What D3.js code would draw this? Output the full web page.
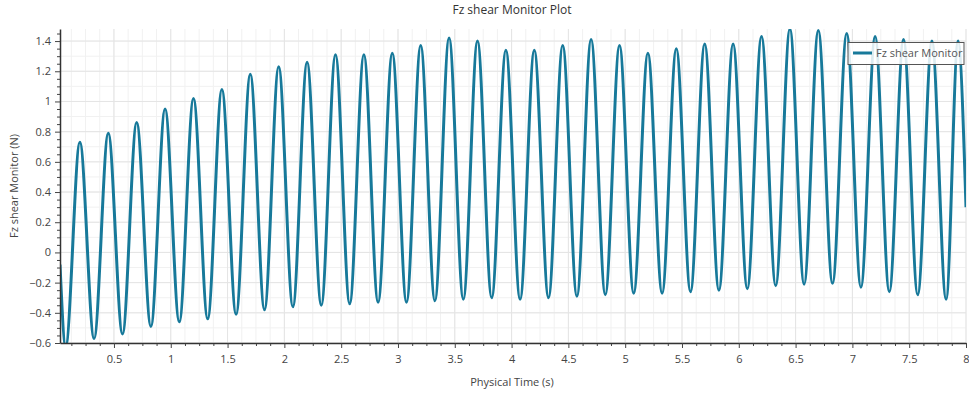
<!DOCTYPE html>
<html>
<head>
<meta charset="utf-8">
<script src="https://cdn.jsdelivr.net/npm/d3@7"></script>
<style>
  body { margin: 0; background: #fff; }
  text { font-family: "Open Sans", "Noto Sans", sans-serif; }
</style>
</head>
<body>
<div id="chart"></div>
<script>
  // values: peaks and troughs of the oscillation
  var peakTime = [0.2, 0.45, 0.7, 0.95, 1.2, 1.45, 1.7, 1.95, 2.2, 2.45, 2.7, 2.95, 3.2, 3.45, 3.7, 3.95,
                  4.2, 4.45, 4.7, 4.95, 5.2, 5.45, 5.7, 5.95, 6.2, 6.45, 6.7, 6.95, 7.2, 7.45, 7.7, 7.93];
  var peakFz = [0.73, 0.79, 0.86, 0.95, 1.02, 1.08, 1.18, 1.23, 1.26, 1.31, 1.31, 1.32, 1.37, 1.42, 1.40, 1.34,
                1.34, 1.37, 1.41, 1.37, 1.32, 1.35, 1.38, 1.38, 1.43, 1.48, 1.47, 1.45, 1.43, 1.41, 1.40, 1.40];
  var troughTime = [0.075, 0.325, 0.575, 0.825, 1.075, 1.325, 1.575, 1.825, 2.075, 2.325, 2.575, 2.825, 3.075, 3.325, 3.575, 3.825,
                    4.075, 4.325, 4.575, 4.825, 5.075, 5.325, 5.575, 5.825, 6.075, 6.325, 6.575, 6.825, 7.075, 7.325, 7.575, 7.825];
  var troughFz = [-0.62, -0.57, -0.54, -0.49, -0.46, -0.44, -0.41, -0.38, -0.36, -0.35, -0.34, -0.33, -0.33, -0.32, -0.31, -0.30,
                  -0.31, -0.30, -0.29, -0.28, -0.27, -0.27, -0.26, -0.25, -0.24, -0.22, -0.21, -0.205, -0.23, -0.26, -0.28, -0.31];
  var startPoint = [0.025, -0.08];
  var endPoint = [8.0, 0.30];

  var xTicks = [0.5, 1, 1.5, 2, 2.5, 3, 3.5, 4, 4.5, 5, 5.5, 6, 6.5, 7, 7.5, 8];
  var yTicks = [-0.6, -0.4, -0.2, 0, 0.2, 0.4, 0.6, 0.8, 1, 1.2, 1.4];

  var width = 969, height = 394;
  var plotLeft = 60, plotRight = 966, plotTop = 29, plotBottom = 343;
  var lineColor = "#17799a";

  var data = [{t: startPoint[0], v: startPoint[1]}];
  for (let i = 0; i < peakTime.length; i++) {
    data.push({t: troughTime[i], v: troughFz[i]});
    data.push({t: peakTime[i], v: peakFz[i]});
  }
  data.push({t: endPoint[0], v: endPoint[1]});
  data.sort(function(a, b) { return a.t - b.t; });

  var x = d3.scaleLinear().domain([0.025, 8]).range([plotLeft, plotRight]);
  var y = d3.scaleLinear().domain([-0.6, 1.48]).range([plotBottom, plotTop]);

  var svg = d3.select("#chart").append("svg")
    .attr("width", width)
    .attr("height", height);

  svg.append("defs").append("clipPath").attr("id", "plot")
    .append("rect")
    .attr("x", plotLeft).attr("y", plotTop)
    .attr("width", plotRight - plotLeft).attr("height", plotBottom - plotTop);

  // minor grid
  var xMinor = d3.range(1, 65).map(function(i) { return i * 0.125; });
  var yMinor = d3.range(-6, 15).map(function(i) { return i / 10; });
  svg.append("g").selectAll("line").data(xMinor).enter().append("line")
    .attr("x1", d => x(d)).attr("x2", d => x(d))
    .attr("y1", plotTop).attr("y2", plotBottom)
    .attr("stroke", "#f1f1f1");
  svg.append("g").selectAll("line").data(yMinor).enter().append("line")
    .attr("x1", plotLeft).attr("x2", plotRight)
    .attr("y1", d => y(d)).attr("y2", d => y(d))
    .attr("stroke", "#f1f1f1");
  // major grid
  svg.append("g").selectAll("line").data(xTicks).enter().append("line")
    .attr("x1", d => x(d)).attr("x2", d => x(d))
    .attr("y1", plotTop).attr("y2", plotBottom)
    .attr("stroke", "#e4e4e4");
  svg.append("g").selectAll("line").data(yTicks).enter().append("line")
    .attr("x1", plotLeft).attr("x2", plotRight)
    .attr("y1", d => y(d)).attr("y2", d => y(d))
    .attr("stroke", "#e4e4e4");

  // the curve
  var line = d3.line()
    .x(d => x(d.t))
    .y(d => y(d.v))
    .curve(d3.curveMonotoneX);
  svg.append("path")
    .datum(data)
    .attr("clip-path", "url(#plot)")
    .attr("d", line)
    .attr("fill", "none")
    .attr("stroke", lineColor)
    .attr("stroke-width", 3);

  // axes: minor ticks first, then the labelled ones
  var xMinorTicks = xMinor.filter(d => xTicks.indexOf(d) < 0);
  var yMinorTicks = d3.range(-12, 30).map(i => i * 0.05).filter(d => Math.abs(Math.round(d * 10) - d * 10) > 0.01 || Math.abs(Math.round(d * 5) - d * 5) > 0.01);

  svg.append("g")
    .attr("transform", "translate(0," + plotBottom + ")")
    .call(d3.axisBottom(x).tickValues(xMinorTicks).tickSize(3).tickFormat("").tickSizeOuter(0))
    .call(g => g.select(".domain").remove())
    .selectAll("line").attr("stroke", "#444");
  svg.append("g")
    .attr("transform", "translate(" + plotLeft + ",0)")
    .call(d3.axisLeft(y).tickValues(yMinorTicks).tickSize(3).tickFormat("").tickSizeOuter(0))
    .call(g => g.select(".domain").remove())
    .selectAll("line").attr("stroke", "#444");

  var xAxis = svg.append("g")
    .attr("transform", "translate(0," + plotBottom + ")")
    .call(d3.axisBottom(x).tickValues(xTicks).tickSize(5).tickPadding(7).tickSizeOuter(0)
      .tickFormat(d => d3.format("~g")(d)));
  var yAxis = svg.append("g")
    .attr("transform", "translate(" + plotLeft + ",0)")
    .call(d3.axisLeft(y).tickValues(yTicks).tickSize(5).tickPadding(4).tickSizeOuter(0)
      .tickFormat(d => d3.format("~g")(d)));
  [xAxis, yAxis].forEach(function(g) {
    g.select(".domain").attr("stroke", "#333").attr("stroke-width", 1.5);
    g.selectAll(".tick line").attr("stroke", "#444");
    g.selectAll(".tick text").attr("fill", "#444").attr("font-size", "11px")
      .attr("font-family", "'Open Sans', 'Noto Sans', sans-serif");
  });

  // title and axis titles
  svg.append("text")
    .attr("x", 512).attr("y", 14)
    .attr("text-anchor", "middle")
    .attr("font-size", "12px")
    .attr("fill", "#333")
    .text("Fz shear Monitor Plot");
  svg.append("text")
    .attr("x", 512).attr("y", 386)
    .attr("text-anchor", "middle")
    .attr("font-size", "11px")
    .attr("fill", "#444")
    .text("Physical Time (s)");
  svg.append("text")
    .attr("transform", "translate(18," + (plotTop + plotBottom) / 2 + ") rotate(-90)")
    .attr("text-anchor", "middle")
    .attr("font-size", "11px")
    .attr("fill", "#444")
    .text("Fz shear Monitor (N)");

  // legend
  var legend = svg.append("g").attr("transform", "translate(848,42.5)");
  legend.append("rect")
    .attr("width", 116).attr("height", 22)
    .attr("fill", "#fff").attr("fill-opacity", 0.85)
    .attr("stroke", "#555").attr("stroke-width", 1);
  legend.append("line")
    .attr("x1", 5).attr("x2", 24).attr("y1", 10.5).attr("y2", 10.5)
    .attr("stroke", lineColor).attr("stroke-width", 3);
  legend.append("text")
    .attr("x", 28).attr("y", 14.5)
    .attr("font-size", "11px")
    .attr("fill", "#555")
    .text("Fz shear Monitor");
</script>
</body>
</html>
